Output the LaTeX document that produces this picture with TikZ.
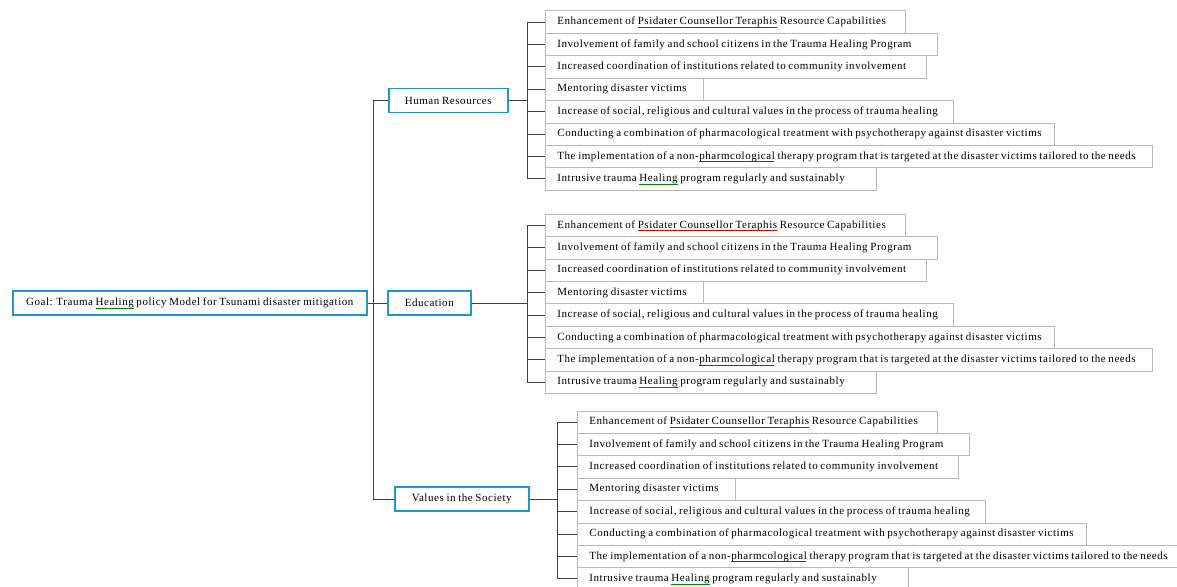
\documentclass[tikz,border=0pt]{standalone}
\usepackage{fontspec}
\setmainfont{Liberation Serif}[LetterSpace=5,WordSpace=0.8]
\newcommand\leafA{Enhancement of Psidater Counsellor Teraphis Resource Capabilities}
\newcommand\leafB{Involvement of family and school citizens in the Trauma Healing Program}
\newcommand\leafC{Increased coordination of institutions related to community involvement}
\newcommand\leafD{Mentoring disaster victims}
\newcommand\leafE{Increase of social, religious and cultural values in the process of trauma healing}
\newcommand\leafF{Conducting a combination of pharmacological treatment with psychotherapy against disaster victims}
\newcommand\leafG{The implementation of a non-pharmcological therapy program that is targeted at the disaster victims tailored to the needs}
\newcommand\leafH{Intrusive trauma Healing program regularly and sustainably}
\newcommand\goaltext{Goal: Trauma Healing policy Model for Tsunami disaster mitigation}
\newcommand\leafgroup[3]{%
  \foreach \li/\lw/\lt in {1/360/\leafA,2/392/\leafB,3/381/\leafC,4/158/\leafD,5/408/\leafE,6/509/\leafF,7/607/\leafG,8/331/\leafH}{%
    \pgfmathsetmacro\ltw{\lw-24}%
    \node[leaf] (#1\li) at (#2,{#3+(\li-1)*22.4}) {\makebox[\ltw pt][l]{\lt}};
  }%
}
\newlength\sqpA \newlength\sqwA
\newlength\sqpG \newlength\sqwG
\newlength\sqpH \newlength\sqwH
\newlength\sqpGoal \newlength\sqwGoal \newlength\sqfGoal
\newcommand\lf{\fontsize{11}{13}\selectfont}
\newcommand\sqline[4]{% node, prefix, word width, colour
  \draw[draw=#4, line width=0.6pt] ([xshift=12.4pt+#2, yshift=-2.4pt]#1.base west) -- ++(#3,0pt);}
\begin{document}
\settowidth\sqpA{\lf Enhancement of }\settowidth\sqwA{\lf Psidater Counsellor Teraphis}%
\settowidth\sqpG{\lf The implementation of a non-}\settowidth\sqwG{\lf pharmcological}%
\settowidth\sqpH{\lf Intrusive trauma }\settowidth\sqwH{\lf Healing}%
\settowidth\sqpGoal{\lf Goal: Trauma }\settowidth\sqwGoal{\lf Healing}\settowidth\sqfGoal{\lf\goaltext}%
\begin{tikzpicture}[x=1pt,y=-1pt,
  conn/.style={draw=black!75, line width=0.9pt},
  leaf/.style={draw=black!28, line width=0.8pt, fill=white, anchor=north west,
    inner xsep=12pt, inner ysep=0pt, minimum height=22.4pt,
    font=\lf},
  topic/.style={draw={rgb,255:red,35;green,150;blue,200}, line width=1.5pt,
    fill=white, minimum height=24pt, inner xsep=4pt, anchor=west,
    font=\lf}]
\useasboundingbox (0,0) rectangle (1177,586);

% topic nodes
\node[topic, minimum width=354pt] (goal) at (12,303) {\goaltext};
\node[topic, minimum width=119pt] (hr) at (388,100.5) {Human Resources};
\node[topic, minimum width=83pt] (edu) at (387,303) {Education};
\node[topic, minimum width=134pt] (val) at (394,499) {Values in the Society};

% leaf groups
\leafgroup{h}{545}{10.5}
\leafgroup{e}{545}{213.8}
\leafgroup{v}{577}{410.5}

% spelling marks
\foreach \g in {h,e,v}{
  \sqline{\g1}{\sqpA}{\sqwA}{red!85!black}
  \sqline{\g7}{\sqpG}{\sqwG}{red!85!black}
  \sqline{\g8}{\sqpH}{\sqwH}{green!55!black}
}
\draw[draw=green!55!black, line width=0.6pt] ([xshift=-0.5\sqfGoal+\sqpGoal, yshift=-2.4pt]goal.base) -- ++(\sqwGoal,0pt);

% trunk
\coordinate (tk) at (373,0);
\coordinate (hb) at (527,0);
\coordinate (eb) at (527,0);
\coordinate (vb) at (557,0);
\draw[conn] (hr.west) -- (hr.west -| tk) -- (val.west -| tk) -- (val.west);
\draw[conn] (goal.east) -- (edu.west);

% brackets
\draw[conn] (hr.east) -- (hr.east -| hb);
\draw[conn] (h1.west -| hb) -- (h8.west -| hb);
\foreach \i in {1,...,8} \draw[conn] (h\i.west -| hb) -- (h\i.west);

\draw[conn] (edu.east) -- (edu.east -| eb);
\draw[conn] (e1.west -| eb) -- (e8.west -| eb);
\foreach \i in {1,...,8} \draw[conn] (e\i.west -| eb) -- (e\i.west);

\draw[conn] (val.east) -- (val.east -| vb);
\draw[conn] (v1.west -| vb) -- (v8.west -| vb);
\foreach \i in {1,...,8} \draw[conn] (v\i.west -| vb) -- (v\i.west);
\end{tikzpicture}
\end{document}
